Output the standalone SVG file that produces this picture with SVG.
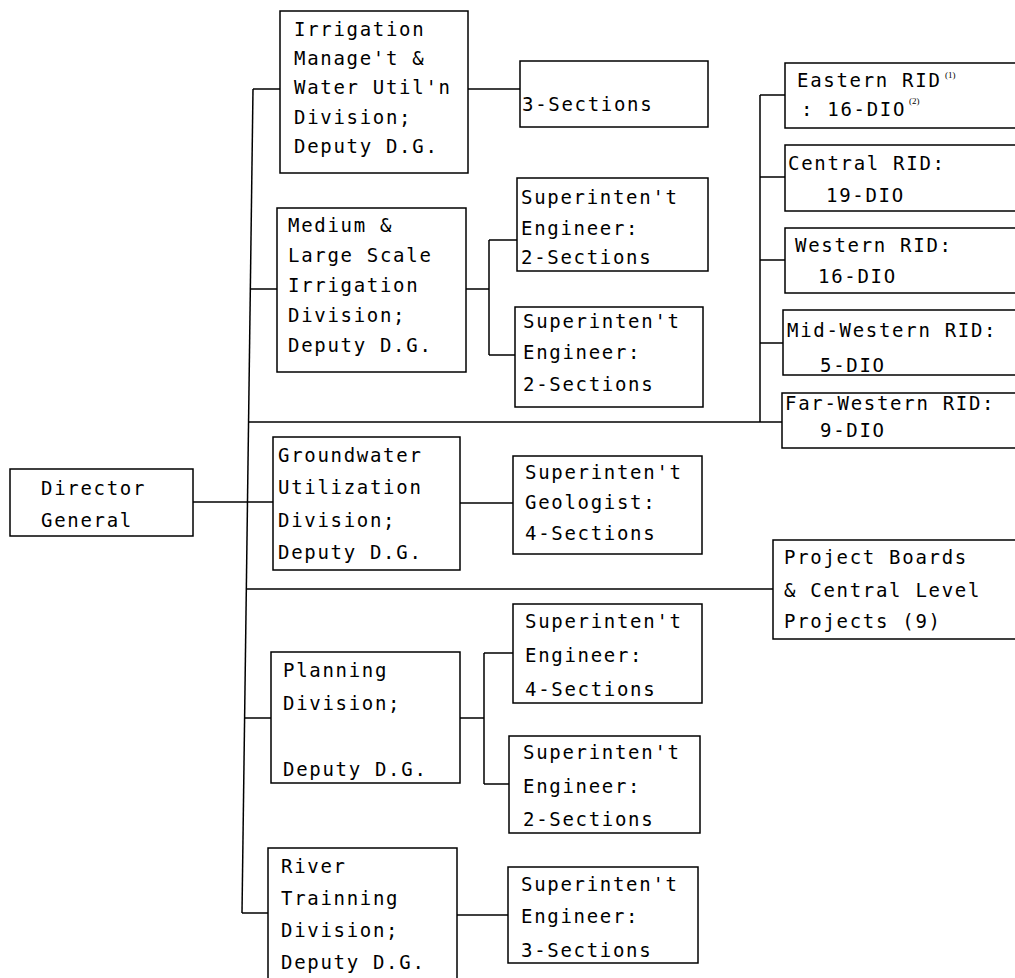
<svg xmlns="http://www.w3.org/2000/svg" width="1015" height="978" viewBox="0 0 1015 978">
<style>
.box{fill:#fff;stroke:#000;stroke-width:1.5}
.t{font-family:"DejaVu Sans Mono","Liberation Mono",monospace;font-size:19px;letter-spacing:1.7px;fill:#000}
.sup{font-family:"Liberation Serif",serif;font-size:9px;fill:#000}
.c{stroke:#000;stroke-width:1.5;fill:none}
</style>
<rect x="0" y="0" width="1015" height="978" fill="#fff"/>
<g id="connectors">
<path class="c" d="M253,89 L242,913"/>
<path class="c" d="M193,502 H273"/>
<path class="c" d="M253,89 H280"/>
<path class="c" d="M250,289 H277"/>
<path class="c" d="M248.6,422 H782"/>
<path class="c" d="M246.3,589 H773"/>
<path class="c" d="M244.6,718 H271"/>
<path class="c" d="M242,913 H268"/>
<path class="c" d="M468,89 H520"/>
<path class="c" d="M466,289 H489 M489,240 V355 M489,240 H517 M489,355 H515"/>
<path class="c" d="M460,503 H513"/>
<path class="c" d="M460,718 H484 M484,653 V784 M484,653 H513 M484,784 H509"/>
<path class="c" d="M457,915 H508"/>
<path class="c" d="M760,95 V422 M760,95 H785 M760,177 H785 M760,260 H785 M760,343 H783"/>
</g>
<g id="director-general">
<rect class="box" x="10" y="469" width="183" height="67"/>
<text class="t"><tspan x="41" y="495">Director</tspan><tspan x="41" y="527">General</tspan></text>
</g>
<g id="irrigation-management">
<rect class="box" x="280" y="11" width="188" height="162"/>
<text class="t"><tspan x="294" y="36">Irrigation</tspan><tspan x="294" y="65">Manage't &amp;</tspan><tspan x="294" y="94">Water Util'n</tspan><tspan x="294" y="124">Division;</tspan><tspan x="294" y="153">Deputy D.G.</tspan></text>
</g>
<g id="three-sections">
<rect class="box" x="520" y="61" width="188" height="66"/>
<text class="t" x="522" y="111">3-Sections</text>
</g>
<g id="medium-large">
<rect class="box" x="277" y="208" width="189" height="164"/>
<text class="t"><tspan x="288" y="232">Medium &amp;</tspan><tspan x="288" y="262">Large Scale</tspan><tspan x="288" y="292">Irrigation</tspan><tspan x="288" y="322">Division;</tspan><tspan x="288" y="352">Deputy D.G.</tspan></text>
</g>
<g id="se-medium-a">
<rect class="box" x="517" y="178" width="191" height="93"/>
<text class="t"><tspan x="521" y="204">Superinten't</tspan><tspan x="521" y="235">Engineer:</tspan><tspan x="521" y="264">2-Sections</tspan></text>
</g>
<g id="se-medium-b">
<rect class="box" x="515" y="307" width="188" height="100"/>
<text class="t"><tspan x="523" y="328">Superinten't</tspan><tspan x="523" y="359">Engineer:</tspan><tspan x="523" y="391">2-Sections</tspan></text>
</g>
<g id="groundwater">
<rect class="box" x="273" y="437" width="187" height="133"/>
<text class="t"><tspan x="278" y="462">Groundwater</tspan><tspan x="278" y="494">Utilization</tspan><tspan x="278" y="527">Division;</tspan><tspan x="278" y="559">Deputy D.G.</tspan></text>
</g>
<g id="sg-geologist">
<rect class="box" x="513" y="456" width="189" height="98"/>
<text class="t"><tspan x="525" y="479">Superinten't</tspan><tspan x="525" y="509">Geologist:</tspan><tspan x="525" y="540">4-Sections</tspan></text>
</g>
<g id="planning">
<rect class="box" x="271" y="652" width="189" height="131"/>
<text class="t"><tspan x="283" y="677">Planning</tspan><tspan x="283" y="710">Division;</tspan><tspan x="283" y="776">Deputy D.G.</tspan></text>
</g>
<g id="se-planning-a">
<rect class="box" x="513" y="604" width="189" height="99"/>
<text class="t"><tspan x="525" y="628">Superinten't</tspan><tspan x="525" y="662">Engineer:</tspan><tspan x="525" y="696">4-Sections</tspan></text>
</g>
<g id="se-planning-b">
<rect class="box" x="509" y="736" width="191" height="97"/>
<text class="t"><tspan x="523" y="759">Superinten't</tspan><tspan x="523" y="793">Engineer:</tspan><tspan x="523" y="826">2-Sections</tspan></text>
</g>
<g id="river-training">
<rect class="box" x="268" y="848" width="189" height="142"/>
<text class="t"><tspan x="281" y="873">River</tspan><tspan x="281" y="905">Trainning</tspan><tspan x="281" y="937">Division;</tspan><tspan x="281" y="969">Deputy D.G.</tspan></text>
</g>
<g id="se-river">
<rect class="box" x="508" y="867" width="190" height="96"/>
<text class="t"><tspan x="521" y="891">Superinten't</tspan><tspan x="521" y="923">Engineer:</tspan><tspan x="521" y="957">3-Sections</tspan></text>
</g>
<g id="eastern-rid">
<rect class="box" x="785" y="63" width="240" height="65"/>
<text class="t" x="797" y="87">Eastern RID</text>
<text class="t" x="801" y="116">: 16-DIO</text>
<text class="sup" x="945" y="78">(1)</text>
<text class="sup" x="909" y="104">(2)</text>
</g>
<g id="central-rid">
<rect class="box" x="785" y="145" width="240" height="66"/>
<text class="t"><tspan x="788" y="170">Central RID:</tspan><tspan x="826" y="202">19-DIO</tspan></text>
</g>
<g id="western-rid">
<rect class="box" x="785" y="228" width="240" height="65"/>
<text class="t"><tspan x="795" y="252">Western RID:</tspan><tspan x="818" y="283">16-DIO</tspan></text>
</g>
<g id="mid-western-rid">
<rect class="box" x="783" y="310" width="240" height="65"/>
<text class="t"><tspan x="787" y="337">Mid-Western RID:</tspan><tspan x="820" y="372">5-DIO</tspan></text>
</g>
<g id="far-western-rid">
<rect class="box" x="782" y="393" width="240" height="55"/>
<text class="t"><tspan x="785" y="410">Far-Western RID:</tspan><tspan x="820" y="437">9-DIO</tspan></text>
</g>
<g id="project-boards">
<rect class="box" x="773" y="540" width="250" height="99"/>
<text class="t"><tspan x="784" y="564">Project Boards</tspan><tspan x="784" y="597">&amp; Central Level</tspan><tspan x="784" y="628">Projects (9)</tspan></text>
</g>
</svg>
